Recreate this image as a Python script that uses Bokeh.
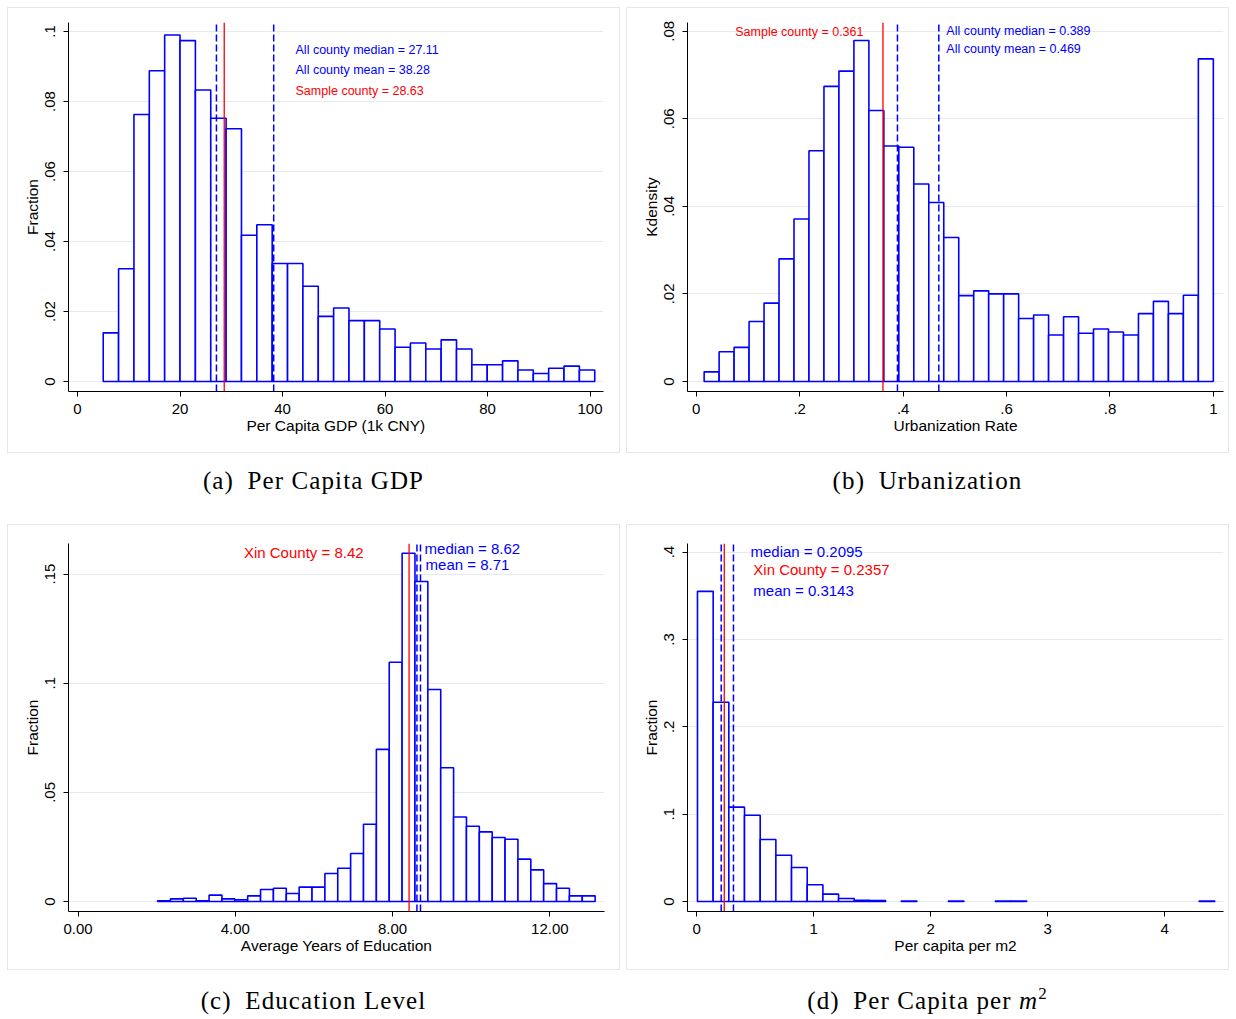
from bokeh.plotting import figure
from bokeh.models import (Label, FixedTicker, CustomJSTickFormatter,
                          PrintfTickFormatter, Range1d, Div, ColumnDataSource)
from bokeh.layouts import row, column
from bokeh.embed import file_html
from bokeh.resources import INLINE

# ---------------- data ----------------
# (a) Per capita GDP (1k CNY)
gdp_bin_start = 5.02
gdp_bin_width = 2.997
gdp_fraction = [0.0139, 0.0322, 0.0763, 0.0888, 0.0990, 0.0974, 0.0833, 0.0752,
                0.0722, 0.0418, 0.0448, 0.0337, 0.0337, 0.0272, 0.0186, 0.0210,
                0.0174, 0.0174, 0.0150, 0.0098, 0.0110, 0.0093, 0.0119, 0.0093,
                0.0048, 0.0048, 0.0059, 0.0033, 0.0023, 0.0038, 0.0044, 0.0033]
gdp_median, gdp_mean, gdp_sample = 27.11, 38.28, 28.63
gdp_xticks = [0, 20, 40, 60, 80, 100]
gdp_yticks = [0, 0.02, 0.04, 0.06, 0.08, 0.1]

# (b) Urbanization rate
urb_bin_start = 0.0152
urb_bin_width = 0.02896
urb_density = [0.0022, 0.0068, 0.0078, 0.0137, 0.0179, 0.0280, 0.0371, 0.0527,
               0.0674, 0.0709, 0.0779, 0.0619, 0.0538, 0.0535, 0.0451, 0.0409,
               0.0329, 0.0196, 0.0207, 0.0200, 0.0200, 0.0144, 0.0152, 0.0106,
               0.0148, 0.0110, 0.0120, 0.0113, 0.0106, 0.0155, 0.0183, 0.0155,
               0.0197, 0.0737]
urb_sample, urb_median, urb_mean = 0.361, 0.389, 0.469
urb_xticks = [0, 0.2, 0.4, 0.6, 0.8, 1]
urb_yticks = [0, 0.02, 0.04, 0.06, 0.08]

# (c) Average years of education
edu_bin_start = 2.024
edu_bin_width = 0.3273
edu_fraction = [0.0003, 0.0012, 0.0015, 0.0003, 0.0029, 0.0012, 0.0008, 0.0026,
                0.0055, 0.0061, 0.0037, 0.0066, 0.0066, 0.0128, 0.0152, 0.0220,
                0.0354, 0.0697, 0.1096, 0.1595, 0.1466, 0.0971, 0.0613, 0.0387,
                0.0345, 0.0319, 0.0293, 0.0285, 0.0194, 0.0145, 0.0082, 0.0061,
                0.0026, 0.0026]
edu_xin, edu_median, edu_mean = 8.42, 8.62, 8.71
edu_xticks = [0, 4, 8, 12]
edu_yticks = [0, 0.05, 0.1, 0.15]

# (d) Per capita per m2
area_bin_start = 0.0067
area_bin_width = 0.134
area_fraction = [0.355, 0.228, 0.108, 0.0988, 0.0709, 0.0530, 0.0389, 0.0191,
                 0.0084, 0.0034, 0.0015, 0.0011, 0, 0.0006, 0, 0, 0.0006, 0, 0,
                 0.0006, 0.0006, 0, 0, 0, 0, 0, 0, 0, 0, 0, 0, 0, 0.0006]
area_median, area_xin, area_mean = 0.2095, 0.2357, 0.3143
area_xticks = [0, 1, 2, 3, 4]
area_yticks = [0, 0.1, 0.2, 0.3, 0.4]

captions = ["(a)&ensp;Per Capita GDP", "(b)&ensp;Urbanization",
            "(c)&ensp;Education Level",
            "(d)&ensp;Per Capita per <i>m</i><span style='position:relative;top:-10px;font-size:17px'>2</span>"]

# ---------------- style ----------------
FONT = "Liberation Sans"
BLUE = "#0000ff"
RED = "#ff0000"
GRID = "#e4eaed"

stata_fmt = CustomJSTickFormatter(code=r"""
if (tick == 0) { return "0"; }
let s = tick.toFixed(3).replace(/0+$/, "").replace(/\.$/, "");
return s.replace(/^0\./, ".");
""")


def panel(width, height, xr, yr, borders, xticks, yticks, xfmt, xlabel,
          ylabel, bin_start, bin_width, heights):
    l, r, t, b = borders
    p = figure(width=width, height=height, output_backend="svg", title=None,
               toolbar_location=None, x_range=Range1d(*xr), y_range=Range1d(*yr),
               min_border_left=l, min_border_right=r, min_border_top=t,
               min_border_bottom=b)
    p.outline_line_color = None
    p.background_fill_color = "white"
    p.border_fill_color = "white"
    p.styles = {"outline": "1px solid #e2e8eb"}
    p.xgrid.visible = False
    p.ygrid.grid_line_color = GRID
    p.ygrid.grid_line_width = 1.2
    for ax in (p.xaxis[0], p.yaxis[0]):
        ax.axis_line_color = "black"
        ax.major_tick_line_color = "black"
        ax.major_tick_in = 0
        ax.major_tick_out = 5
        ax.minor_tick_line_color = None
        ax.major_label_text_font = FONT
        ax.major_label_text_font_size = "15px"
        ax.major_label_text_color = "black"
        ax.axis_label_text_font = FONT
        ax.axis_label_text_font_size = "15.5px"
        ax.axis_label_text_font_style = "normal"
        ax.axis_label_text_color = "black"
    p.xaxis.major_label_standoff = 7
    p.xaxis.axis_label_standoff = 0
    p.yaxis.major_label_standoff = 8
    p.yaxis.axis_label_standoff = 2
    p.xaxis.ticker = FixedTicker(ticks=xticks)
    p.yaxis.ticker = FixedTicker(ticks=yticks)
    p.xaxis.formatter = xfmt
    p.yaxis.formatter = stata_fmt
    p.yaxis.major_label_orientation = "vertical"
    p.xaxis.axis_label = xlabel
    p.yaxis.axis_label = ylabel

    lefts = [bin_start + i * bin_width for i, h in enumerate(heights) if h > 0]
    rights = [x + bin_width for x in lefts]
    tops = [h for h in heights if h > 0]
    src = ColumnDataSource(dict(left=lefts, right=rights, top=tops))
    p.quad(left="left", right="right", top="top", bottom=0, source=src,
           fill_color="white", line_color=BLUE, line_width=1.6)
    return p


def vline(p, ylo, yhi, x, color, dashed):
    p.segment(x0=[x], x1=[x], y0=[ylo], y1=[yhi], line_color=color,
              line_width=1.5 if dashed else 1.3,
              line_dash="7 3" if dashed else "solid")


def label(p, x, y, text, color, size, align="left"):
    p.add_layout(Label(x=x, y=y, text=text, text_color=color, text_font=FONT,
                       text_font_size=size, text_baseline="middle",
                       text_align=align))


# (a)
ya = (-0.00286, 0.10257)
pa = panel(611, 444, (-1.756, 102.63), ya, (60, 16, 14, 61),
           gdp_xticks, gdp_yticks, stata_fmt, "Per Capita GDP (1k CNY)", "Fraction",
           gdp_bin_start, gdp_bin_width, gdp_fraction)
vline(pa, ya[0], ya[1], gdp_median, BLUE, True)
vline(pa, ya[0], ya[1], gdp_mean, BLUE, True)
vline(pa, ya[0], ya[1], gdp_sample, RED, False)
label(pa, 42.54, 0.0946, f"All county median = {gdp_median:.2f}", BLUE, "12.5px")
label(pa, 42.54, 0.0891, f"All county mean = {gdp_mean:.2f}", BLUE, "12.5px")
label(pa, 42.54, 0.0829, f"Sample county = {gdp_sample:.2f}", RED, "12.5px")

# (b)
yb = (-0.00229, 0.0820)
pb = panel(601, 444, (-0.017, 1.0195), yb, (60, 5, 14, 61),
           urb_xticks, urb_yticks, stata_fmt, "Urbanization Rate", "Kdensity",
           urb_bin_start, urb_bin_width, urb_density)
vline(pb, yb[0], yb[1], urb_median, BLUE, True)
vline(pb, yb[0], yb[1], urb_mean, BLUE, True)
vline(pb, yb[0], yb[1], urb_sample, RED, False)
label(pb, 0.3233, 0.0798, f"Sample county = {urb_sample:.3f}", RED, "12.5px", "right")
label(pb, 0.4835, 0.0801, f"All county median = {urb_median:.3f}", BLUE, "12.5px")
label(pb, 0.4835, 0.0760, f"All county mean = {urb_mean:.3f}", BLUE, "12.5px")

# (c)
yc = (-0.00458, 0.1640)
pc = panel(611, 444, (-0.242, 13.39), yc, (60, 15, 18, 58),
           edu_xticks, edu_yticks, PrintfTickFormatter(format="%.2f"),
           "Average Years of Education", "Fraction",
           edu_bin_start, edu_bin_width, edu_fraction)
vline(pc, yc[0], yc[1], edu_median, BLUE, True)
vline(pc, yc[0], yc[1], edu_mean, BLUE, True)
vline(pc, yc[0], yc[1], edu_xin, RED, False)
label(pc, 7.263, 0.1600, f"Xin County = {edu_xin:.2f}", RED, "15px", "right")
label(pc, 8.815, 0.1617, f"median = {edu_median:.2f}", BLUE, "15px")
label(pc, 8.84, 0.1545, f"mean = {edu_mean:.2f}", BLUE, "15px")

# (d)
yd = (-0.01144, 0.4098)
pd_ = panel(601, 444, (-0.0786, 4.503), yd, (60, 5, 18, 58),
            area_xticks, area_yticks, stata_fmt, "Per capita per m2", "Fraction",
            area_bin_start, area_bin_width, area_fraction)
vline(pd_, yd[0], yd[1], area_median, BLUE, True)
vline(pd_, yd[0], yd[1], area_mean, BLUE, True)
vline(pd_, yd[0], yd[1], area_xin, RED, False)
label(pd_, 0.46, 0.4010, f"median = {area_median:.4f}", BLUE, "15px")
label(pd_, 0.4838, 0.3795, f"Xin County = {area_xin:.4f}", RED, "15px")
label(pd_, 0.4838, 0.3557, f"mean = {area_mean:.4f}", BLUE, "15px")


def caption(text, width, height, pad):
    html = (f"<div style=\"width:{width}px;text-align:center;"
            f"font-family:'Liberation Serif';font-size:25px;line-height:25px;"
            f"letter-spacing:1.1px;padding-top:{pad}px;color:#000;"
            f"white-space:nowrap\">{text}</div>")
    return Div(text=html, width=width, height=height, margin=(0, 0, 0, 0))


layout = column(
    row(pa, pb, spacing=8),
    row(caption(captions[0], 611, 73, 16), caption(captions[1], 601, 73, 16), spacing=8),
    row(pc, pd_, spacing=8),
    row(caption(captions[2], 611, 42, 19), caption(captions[3], 601, 42, 19), spacing=8),
    spacing=0, margin=(8, 0, 0, 8),
)

open("out.html", "w").write(file_html(layout, INLINE))
